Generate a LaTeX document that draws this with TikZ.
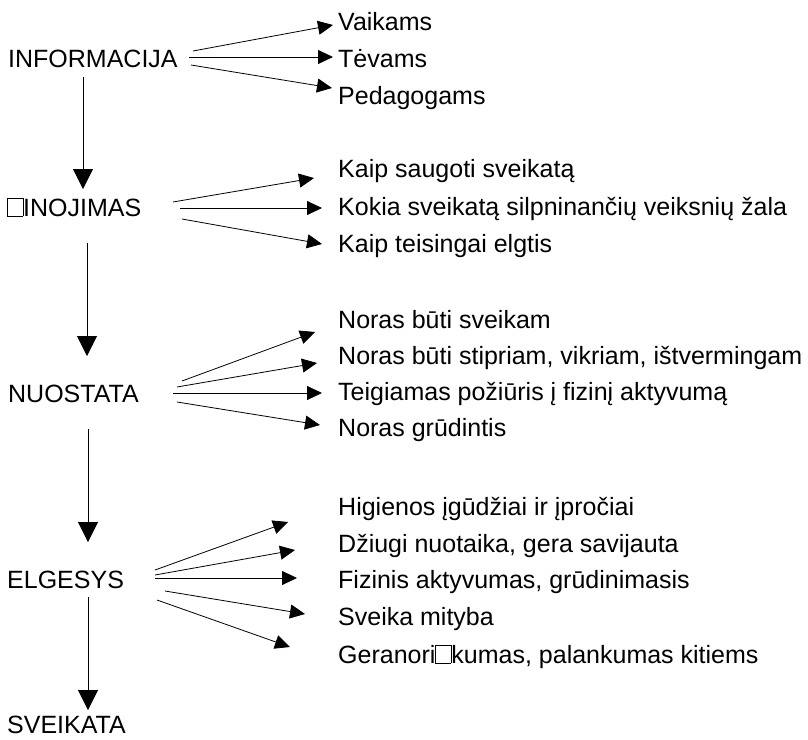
\documentclass[tikz,border=0pt]{standalone}
\usepackage{fontspec}
\setmainfont{Liberation Sans}
\usepackage{tikz}
\usetikzlibrary{arrows.meta}
\newcommand{\nobox}{{\setlength{\fboxsep}{0pt}\setlength{\fboxrule}{0.5pt}\fbox{\rule{0pt}{0.72em}\hspace{0.6em}}}}

\begin{document}
\begin{tikzpicture}[x=1pt, y=-1pt, font=\fontsize{25}{30}\selectfont,
  stage/.style={anchor=base west, inner sep=0pt},
  item/.style={anchor=base west, inner sep=0pt},
  fan/.style={-{Triangle[length=15pt, width=14pt]}, line width=0.8pt},
  flow/.style={-{Triangle[length=20pt, width=20pt]}, line width=0.8pt}]
  \useasboundingbox (0,0) rectangle (808,739);

  % Stages
  \node[stage] (info) at (8, 67) {INFORMACIJA};
  \node[stage] (zin)  at (7, 216) {\nobox INOJIMAS};
  \node[stage] (nuo)  at (8, 402) {NUOSTATA};
  \node[stage] (elg)  at (7, 588) {ELGESYS};
  \node[stage] (sveik) at (7, 733) {SVEIKATA};

  % Stage flow
  \coordinate (infoDown) at (83, 77);
  \coordinate (zinUp)    at (83, 189);
  \coordinate (zinDown)  at (87, 243);
  \coordinate (nuoUp)    at (87, 356);
  \coordinate (nuoDown)  at (88, 429);
  \coordinate (elgUp)    at (88, 542);
  \coordinate (elgDown)  at (88, 597);
  \coordinate (sveikUp)  at (88, 710);
  \draw[flow] (infoDown) -- (zinUp);
  \draw[flow] (zinDown) -- (nuoUp);
  \draw[flow] (nuoDown) -- (elgUp);
  \draw[flow] (elgDown) -- (sveikUp);

  % Informacija
  \node[item] (vaik) at (338, 30) {Vaikams};
  \node[item] (tev)  at (338, 67) {Tėvams};
  \node[item] (ped)  at (338, 104) {Pedagogams};
  \coordinate (infoA) at (193, 51);  \coordinate (vaikTip) at (333, 25);
  \coordinate (infoB) at (189, 57);  \coordinate (tevTip)  at (333, 57);
  \coordinate (infoC) at (191, 65);  \coordinate (pedTip)  at (332, 88);
  \draw[fan] (infoA) -- (vaikTip);
  \draw[fan] (infoB) -- (tevTip);
  \draw[fan] (infoC) -- (pedTip);

  % Zinojimas
  \node[item] (saug) at (338, 177) {Kaip saugoti sveikatą};
  \node[item] (zala) at (338, 215) {Kokia sveikatą silpninančių veiksnių žala};
  \node[item] (elgt) at (338, 252) {Kaip teisingai elgtis};
  \coordinate (zinA) at (173, 202);  \coordinate (saugTip) at (314, 178);
  \coordinate (zinB) at (180, 208);  \coordinate (zalaTip) at (322, 208);
  \coordinate (zinC) at (182, 219);  \coordinate (elgtTip) at (322, 244);
  \draw[fan] (zinA) -- (saugTip);
  \draw[fan] (zinB) -- (zalaTip);
  \draw[fan] (zinC) -- (elgtTip);

  % Nuostata
  \node[item] (sveikam) at (338, 328) {Noras būti sveikam};
  \node[item] (stipr)   at (338, 364) {Noras būti stipriam, vikriam, ištvermingam};
  \node[item] (teig)    at (338, 400) {Teigiamas požiūris į fizinį aktyvumą};
  \node[item] (grud)    at (338, 436) {Noras grūdintis};
  \coordinate (nuoA) at (182, 381);  \coordinate (sveikamTip) at (315, 332);
  \coordinate (nuoB) at (177, 387);  \coordinate (stiprTip)   at (317, 363);
  \coordinate (nuoC) at (173, 393);  \coordinate (teigTip)    at (322, 393);
  \coordinate (nuoD) at (177, 402);  \coordinate (grudTip)    at (320, 425);
  \draw[fan] (nuoA) -- (sveikamTip);
  \draw[fan] (nuoB) -- (stiprTip);
  \draw[fan] (nuoC) -- (teigTip);
  \draw[fan] (nuoD) -- (grudTip);

  % Elgesys
  \node[item] (hig)  at (338, 515) {Higienos įgūdžiai ir įpročiai};
  \node[item] (dziu) at (338, 552) {Džiugi nuotaika, gera savijauta};
  \node[item] (fiz)  at (338, 588) {Fizinis aktyvumas, grūdinimasis};
  \node[item] (mit)  at (338, 625) {Sveika mityba};
  \node[item] (ger)  at (338, 663) {Geranori\nobox kumas, palankumas kitiems};
  \coordinate (elgA) at (155, 570);  \coordinate (higTip)  at (288, 522);
  \coordinate (elgB) at (155, 575);  \coordinate (dziuTip) at (295, 550);
  \coordinate (elgC) at (155, 578);  \coordinate (fizTip)  at (297, 578);
  \coordinate (elgD) at (165, 591);  \coordinate (mitTip)  at (305, 614);
  \coordinate (elgE) at (157, 600);  \coordinate (gerTip)  at (290, 647);
  \draw[fan] (elgA) -- (higTip);
  \draw[fan] (elgB) -- (dziuTip);
  \draw[fan] (elgC) -- (fizTip);
  \draw[fan] (elgD) -- (mitTip);
  \draw[fan] (elgE) -- (gerTip);
\end{tikzpicture}
\end{document}
